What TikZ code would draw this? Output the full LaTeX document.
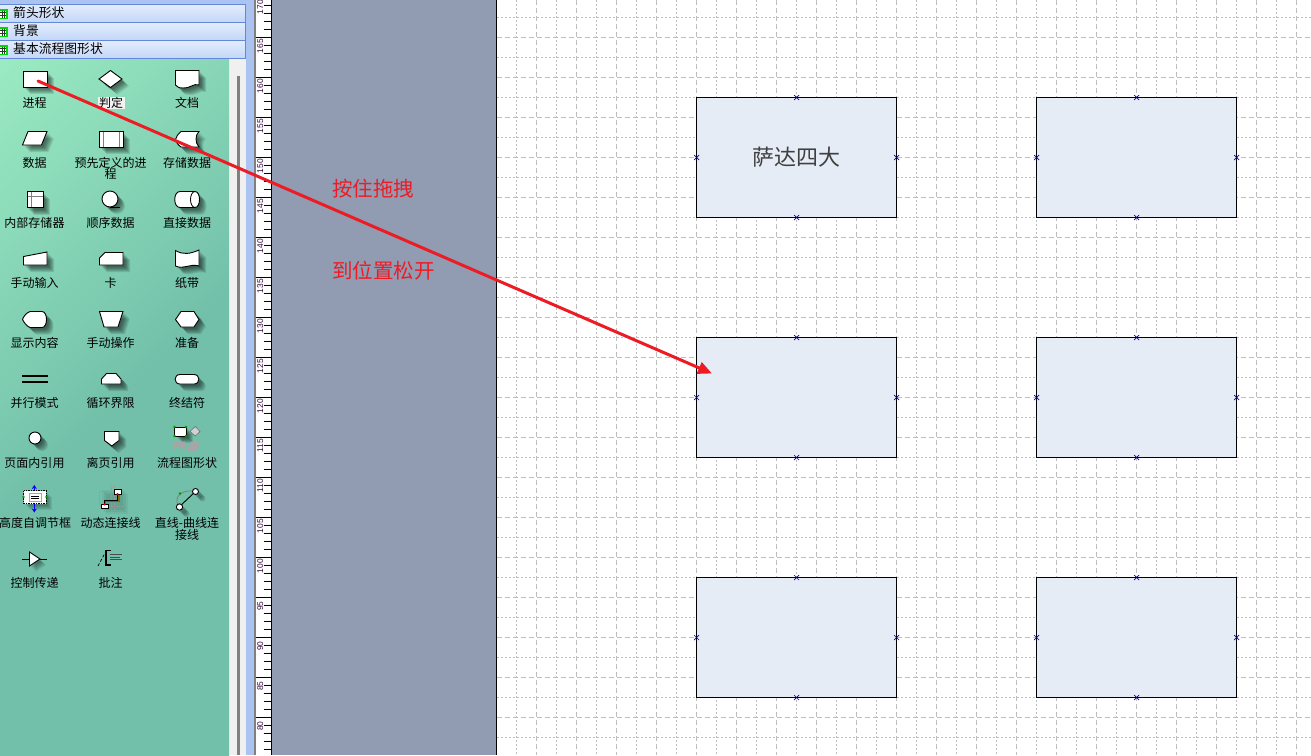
\documentclass[tikz,border=0pt]{standalone}
\usepackage{fontspec}
\setmainfont{Noto Sans CJK SC}
\newfontfamily\rulerfont{Liberation Sans}
\usetikzlibrary{arrows.meta}
\definecolor{pa}{RGB}{155,235,195}
\definecolor{pb}{RGB}{115,192,170}
\definecolor{hdrb}{RGB}{100,135,215}
\definecolor{hdrt}{RGB}{228,238,252}
\definecolor{hdrl}{RGB}{195,215,248}
\definecolor{stripb}{RGB}{170,195,240}
\definecolor{sideg}{RGB}{145,155,178}
\definecolor{gridc}{RGB}{190,190,190}
\definecolor{boxf}{RGB}{230,236,246}
\definecolor{redc}{RGB}{237,28,36}
\definecolor{oliv}{RGB}{130,110,0}
\pgfdeclareverticalshading{panelgrad}{100bp}{color(0bp)=(pb);color(50bp)=(pb);color(86bp)=(pa);color(100bp)=(pa)}
\tikzset{
 griddot/.style={gridc,line width=1pt,dash pattern=on 2pt off 2pt},
 griddash/.style={gridc,line width=1pt,dash pattern=on 5pt off 3pt},
 flowbox/.style={draw=black,fill=boxf,line width=1pt,minimum width=200pt,minimum height=120pt,inner sep=0pt,outer sep=0pt},
 lab/.style={inner sep=0pt,font=\fontsize{12}{11}\selectfont,align=center,text=black},
 hdr/.style={inner sep=0pt,anchor=west,font=\fontsize{12.8}{13}\selectfont,text=black},
 redt/.style={inner sep=0pt,anchor=west,text=redc,font=\fontsize{20.5}{21}\selectfont},
 tick/.style={black,line width=1pt},
 rulernum/.style={inner sep=0pt,rotate=90,font=\rulerfont\fontsize{8.4}{10}\selectfont,text={rgb,255:red,50;green,10;blue,60}},
 inner/.style={gray,line width=.8pt},
}
\newcommand{\shp}[1]{\foreach \d in {2,3,4,5,6,7}{\fill[black,opacity=.11,shift={(\d,\d)}] #1;}\filldraw[fill=white,draw=black,line width=.9pt] #1;}
\newcommand{\hdrbar}[3]{%
 \shade[top color=hdrt,bottom color=hdrl] (-1,#1) rectangle (245,#1+18);
 \draw[hdrb,line width=1pt] (-1,#1) rectangle (245,#1+18);
 \fill[green!85!black] (-1,#1+5) rectangle (7.5,#1+15);
 \fill[white] (0,#1+6.5) rectangle (6,#1+13.5);
 \draw[black!80,line width=.7pt] (0,#1+8.8) -- (6,#1+8.8) (0,#1+11.2) -- (6,#1+11.2) (2,#1+6.5) -- (2,#1+13.5) (4,#1+6.5) -- (4,#1+13.5);
 \node[hdr] (#2) at (13,#1+9) {#3};
}
\begin{document}
\begin{tikzpicture}[x=1pt,y=-1pt]
\useasboundingbox (0,0) rectangle (1311,755);
\clip (0,0) rectangle (1311,755);
\fill[white] (0,0) rectangle (1311,755);
% grid
\foreach \x in {516.5,556.5,...,1297}{\draw[griddot] (\x,0) -- (\x,755);}
\foreach \x in {536.5,576.5,...,1297}{\draw[griddash] (\x,0) -- (\x,755);}
\foreach \y in {17.5,57.5,...,740}{\draw[griddot] (497,\y) -- (1311,\y);}
\foreach \y in {37.5,77.5,...,757}{\draw[griddash] (497,\y) -- (1311,\y);}
% side gray
\fill[sideg] (272,0) rectangle (496,755);
\draw[black,line width=1.2pt] (496.6,0) -- (496.6,755);
% boxes
\node[flowbox,font=\fontsize{22}{24}\selectfont,text=black!75] (b1) at (796.5,157.5) {萨达四大};
\node[flowbox] (b2) at (1136.5,157.5) {};
\node[flowbox] (b3) at (796.5,397.5) {};
\node[flowbox] (b4) at (1136.5,397.5) {};
\node[flowbox] (b5) at (796.5,637.5) {};
\node[flowbox] (b6) at (1136.5,637.5) {};
\foreach \b in {b1,b2,b3,b4,b5,b6}{\foreach \a in {north,south,east,west}{
 \draw[blue!70!black,line width=.7pt,shift={(\b.\a)}] (-2.5,-2.5) -- (2.5,2.5) (-2.5,2.5) -- (2.5,-2.5);
}}
% strips
\fill[stripb] (0,0) rectangle (256,755);
\fill[black!50] (254,0) rectangle (256,755);
\fill[white] (256,0) rectangle (271,755);
\draw[black,line width=1pt] (271.5,0) -- (271.5,755);
% ruler
\foreach \y in {-2.5,37.5,...,757}{
 \draw[tick] (256,\y) -- (271,\y);
 \foreach \k in {8,16,24,32}{\draw[tick] (263.5,\y+\k) -- (271,\y+\k);}
}
\node[rulernum] (r170) at (260.3,7) {170};
\foreach \v [evaluate=\v as \yy using {37+(165-\v)*8}] in {165,160,...,80}{
 \node[rulernum] (r\v) at (260.3,\yy+9) {\v};
}
% panel
\fill[black!6] (229,58) rectangle (246,755);
\fill[black!50] (237,76) rectangle (239.5,755);
\shade[shading=panelgrad,shading angle=45] (0,58) rectangle (229,755);
\hdrbar{4}{h1}{箭头形状}
\hdrbar{22}{h2}{背景}
\hdrbar{40}{h3}{基本流程图形状}
% row 1
\shp{(23,71) rectangle (47,87)}
\shp{(99,79) -- (110.5,70.5) -- (122,79) -- (110.5,87.5) -- cycle}
\shp{(175.5,70.5) -- (199,70.5) -- (199,85) .. controls (193,83) and (192,88) .. (183,88) .. controls (179,88) and (177,87) .. (175.5,85) -- cycle}
% row 2
\shp{(28,131.5) -- (47,131.5) -- (41.5,145) -- (22.5,145) -- cycle}
\shp{(99,131.5) rectangle (123,147)}
\draw[inner] (103,132) -- (103,146.5) (119,132) -- (119,146.5);
\shp{(181,131.5) -- (199,131.5) .. controls (195,135) and (195,143) .. (199,147) -- (181,147) .. controls (178,145) and (176,142) .. (175.5,139.5) .. controls (176,137) and (178,134) .. (181,131.5) -- cycle}
% row 3
\shp{(27,191.5) rectangle (43,207.5)}
\draw[inner] (31,192) -- (31,207) (27.5,196) -- (42.5,196);
\shp{(110,199) circle [radius=8pt]}
\draw[black,line width=.9pt] (110,207) -- (120,207);
\shp{(180,191.5) -- (195,191.5) .. controls (201,191.5) and (201,207.5) .. (195,207.5) -- (180,207.5) .. controls (173,207.5) and (173,191.5) .. (180,191.5) -- cycle}
\draw[black,line width=.8pt] (195,191.5) .. controls (189,192) and (189,207) .. (195,207.5);
% row 4
\shp{(23.5,256.5) -- (47,252) -- (47,265) -- (23.5,265) -- cycle}
\shp{(105,252.5) -- (123,252.5) -- (123,265) -- (99.5,265) -- (99.5,258) -- cycle}
\shp{(175.5,250.5) .. controls (183,255) and (190,254) .. (199,250) -- (199,266) .. controls (190,263) and (184,270) .. (175.5,266) -- cycle}
% row 5
\shp{(30,311.5) -- (42,311.5) .. controls (48,311.5) and (48,327.5) .. (42,327.5) -- (30,327.5) .. controls (26,326) and (24,322) .. (22.5,319.5) .. controls (24,316) and (26,313) .. (30,311.5) -- cycle}
\shp{(99.5,311.5) -- (123,311.5) -- (118,327) -- (104,327) -- cycle}
\shp{(181,311.5) -- (194,311.5) -- (199,319.5) -- (194,327) -- (181,327) -- (175.5,319.5) -- cycle}
% row 6
\draw[black,line width=2pt] (22,376) -- (48,376) (22,382) -- (48,382);
\shp{(106.5,373.5) -- (116,373.5) -- (121,379) -- (121,384) -- (101.5,384) -- (101.5,379) -- cycle}
\shp{(180,374.5) -- (194,374.5) .. controls (200.5,374.5) and (200.5,384) .. (194,384) -- (180,384) .. controls (173.5,384) and (173.5,374.5) .. (180,374.5) -- cycle}
% row 7
\shp{(35,438) circle [radius=6pt]}
\shp{(104.5,431.5) -- (119,431.5) -- (119,440.5) -- (111.8,446) -- (104.5,440.5) -- cycle}
\shp{(174.5,427) rectangle (186,436)}
\fill[green!60!black] (174.5,427) circle [radius=1.3pt] (186,427) circle [radius=1.3pt] (174.5,436) circle [radius=1.3pt] (186,436) circle [radius=1.3pt];
\filldraw[fill=black!18,draw=black!60,line width=.5pt] (190,431.5) -- (195.3,426.5) -- (200,431.5) -- (195.3,436) -- cycle;
\fill[black!35] (173,441.5) -- (185,441.5) -- (185,450) -- (179,446) -- (173,450) -- cycle;
\fill[black!35] (191,441.5) -- (200,441.5) -- (196,451) -- (187,451) -- cycle;
% row 8: height adjust
\foreach \d in {2,3,4,5,6}{\fill[black,opacity=.08,shift={(\d,\d)}] (23.5,490.5) rectangle (46,503.5);}
\filldraw[fill=white,draw=black,line width=.9pt,dash pattern=on 1.5pt off 1pt] (23.5,490.5) rectangle (46,503.5);
\filldraw[fill=white,draw=black!35,line width=1pt] (29,493.5) rectangle (41,501);
\draw[black,line width=.8pt] (31,496) -- (39,496) (31,498.5) -- (39,498.5);
\draw[blue,line width=1pt,-{Stealth[length=4pt,width=5pt]}] (34.3,490) -- (34.3,485);
\draw[blue,line width=1pt,-{Stealth[length=4pt,width=5pt]}] (34.3,503.5) -- (34.3,512.5);
\fill[green!60!black] (23.5,497) circle [radius=1.3pt] (46.5,497) circle [radius=1.3pt];
% dynamic connector
\foreach \d in {2,4,6}{\fill[black,opacity=.05,shift={(\d,\d)}] (100,488) rectangle (122,508);}
\draw[black!40,line width=.7pt,densely dotted] (99.5,491.5) rectangle (123.5,506);
\draw[black!40,line width=.7pt,densely dotted] (111,486) rectangle (114,511);
\draw[oliv,line width=1.6pt] (105,508) -- (105,501) -- (119,501) -- (119,493);
\draw[black,line width=1pt] (104,505) -- (104,500) -- (117.5,500) -- (117.5,493);
\filldraw[fill=white,draw=black,line width=.9pt] (101,504.5) rectangle (108,508.5);
\filldraw[fill=white,draw=black,line width=.9pt] (114,489.5) rectangle (121,494);
\fill[red] (104.5,504.5) circle [radius=1.1pt] (117.5,494) circle [radius=1.1pt];
% line-curve connector
\draw[black!50,line width=.8pt] (178,505) .. controls (174,497) and (181,490) .. (193,491);
\draw[black,line width=.9pt] (179,507) -- (195.5,491.5);
\shp{(195.5,491.5) circle [radius=3pt]}
\shp{(179.5,507) circle [radius=3.2pt]}
\fill[green!60!black] (180,493.5) circle [radius=1.3pt];
% row 9
\foreach \d in {2,3,4,5,6}{\fill[black,opacity=.09,shift={(\d,\d)}] (29.5,552) -- (40,559) -- (29.5,566) -- cycle;}
\draw[black,line width=.9pt] (22,559) -- (47,559);
\filldraw[fill=white,draw=black,line width=.9pt] (29.5,552) -- (40,559) -- (29.5,566) -- cycle;
\draw[black,line width=.7pt,densely dashed] (98,566) -- (105,553);
\draw[black,line width=1.6pt] (110.5,550.5) -- (105.8,550.5) -- (105.8,565) -- (110.5,565);
\draw[black!70,line width=.7pt] (110,554.5) -- (122,554.5) (110,557) -- (120,557) (110,559.5) -- (122,559.5);
% labels
\node[lab] (t1) at (34.5,103) {进程};
\node[lab,fill=black!5,inner xsep=1.5pt,inner ysep=.5pt] (t2) at (111,103) {判定};
\node[lab] (t3) at (187,103) {文档};
\node[lab] (t4) at (34.5,163) {数据};
\node[lab,anchor=north] (t5) at (110.5,157) {预先定义的进\\程};
\node[lab] (t6) at (187,163) {存储数据};
\node[lab] (t7) at (34.5,223) {内部存储器};
\node[lab] (t8) at (110.5,223) {顺序数据};
\node[lab] (t9) at (187,223) {直接数据};
\node[lab] (t10) at (34.5,283) {手动输入};
\node[lab] (t11) at (110.5,283) {卡};
\node[lab] (t12) at (187,283) {纸带};
\node[lab] (t13) at (34.5,343) {显示内容};
\node[lab] (t14) at (110.5,343) {手动操作};
\node[lab] (t15) at (187,343) {准备};
\node[lab] (t16) at (34.5,403) {并行模式};
\node[lab] (t17) at (110.5,403) {循环界限};
\node[lab] (t18) at (187,403) {终结符};
\node[lab] (t19) at (34.5,463) {页面内引用};
\node[lab] (t20) at (110.5,463) {离页引用};
\node[lab] (t21) at (187,463) {流程图形状};
\node[lab] (t22) at (35,523) {高度自调节框};
\node[lab] (t23) at (110.5,523) {动态连接线};
\node[lab,anchor=north] (t24) at (187,517) {直线-曲线连\\接线};
\node[lab] (t25) at (34.5,583) {控制传递};
\node[lab] (t26) at (110.5,583) {批注};
% red labels
\node[redt] (n1) at (332,188.5) {按住拖拽};
\node[redt] (n2) at (332,270.5) {到位置松开};
% arrow
\coordinate (dragstart) at (38,81);
\coordinate (dragend) at (712,373.5);
\draw[redc,line width=3pt,line cap=round,-{Triangle[length=14pt,width=12pt]}] (dragstart) -- (dragend);
\end{tikzpicture}
\end{document}
